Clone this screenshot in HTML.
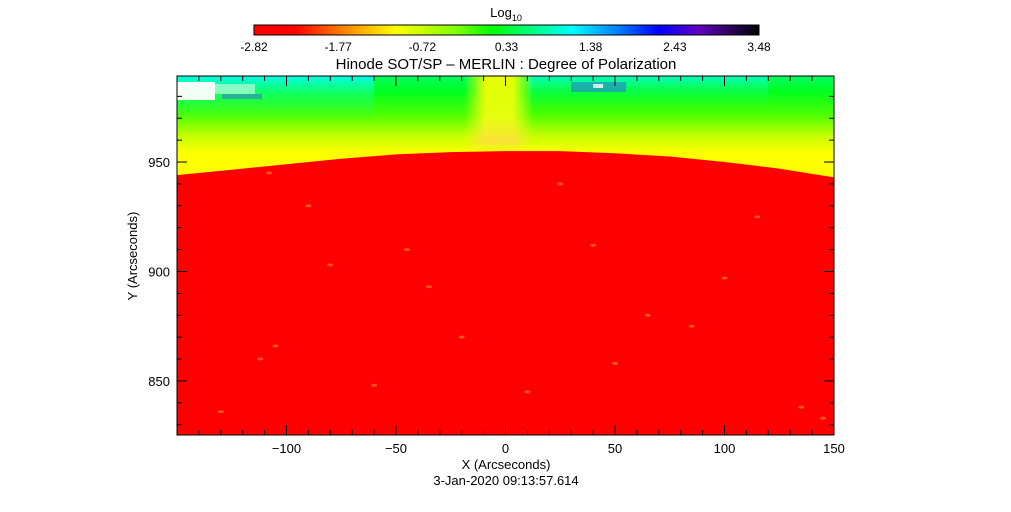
<!DOCTYPE html>
<html><head><meta charset="utf-8"><style>
html,body{margin:0;padding:0;background:#fff;}
svg{display:block;font-family:"Liberation Sans",sans-serif;}
</style></head><body>
<svg id="chart" width="1011" height="512" viewBox="0 0 1011 512" xmlns="http://www.w3.org/2000/svg">
<defs>
<linearGradient id="cbar" x1="0" x2="1" y1="0" y2="0">
<stop offset="0" stop-color="#ff0000"/><stop offset="0.08" stop-color="#ff0000"/>
<stop offset="0.2" stop-color="#ffa000"/><stop offset="0.28" stop-color="#ffff00"/>
<stop offset="0.4" stop-color="#80ff00"/><stop offset="0.47" stop-color="#00ff00"/>
<stop offset="0.63" stop-color="#00ffff"/><stop offset="0.72" stop-color="#0080ff"/>
<stop offset="0.8" stop-color="#0000ff"/><stop offset="0.88" stop-color="#6000c0"/>
<stop offset="1" stop-color="#000000"/></linearGradient>
<linearGradient id="corona" gradientUnits="userSpaceOnUse" x1="0" x2="0" y1="180" y2="76">
<stop offset="0" stop-color="#ffff00"/><stop offset="0.25" stop-color="#ffff00"/>
<stop offset="0.42" stop-color="#c8ff00"/><stop offset="0.62" stop-color="#50ff00"/>
<stop offset="0.85" stop-color="#00ff20"/><stop offset="1" stop-color="#00ff60"/></linearGradient>
<linearGradient id="topleft" x1="0" x2="0" y1="0" y2="1">
<stop offset="0" stop-color="#00ffff"/><stop offset="0.4" stop-color="#20ffb0" stop-opacity="0.5"/><stop offset="1" stop-color="#20ff80" stop-opacity="0"/></linearGradient>
<linearGradient id="col" x1="0" x2="0" y1="0" y2="1">
<stop offset="0" stop-color="#ffff00"/><stop offset="0.5" stop-color="#f4ff10"/><stop offset="0.8" stop-color="#ffe040"/><stop offset="1" stop-color="#ffff00" stop-opacity="0"/></linearGradient>
<linearGradient id="colh" gradientUnits="userSpaceOnUse" x1="464" x2="534" y1="0" y2="0">
<stop offset="0" stop-color="#fff" stop-opacity="0"/><stop offset="0.3" stop-color="#fff" stop-opacity="1"/><stop offset="0.7" stop-color="#fff" stop-opacity="1"/><stop offset="1" stop-color="#fff" stop-opacity="0"/></linearGradient>
<mask id="colmask" maskUnits="userSpaceOnUse" x="0" y="0" width="1011" height="512"><rect x="0" y="0" width="1011" height="512" fill="url(#colh)"/></mask>
<clipPath id="plotclip"><rect x="177" y="76" width="657" height="359"/></clipPath>
</defs>
<g id="layer"></g>
</svg>
<script>
const cbarTicks = ["-2.82","-1.77","-0.72","0.33","1.38","2.43","3.48"];
const xTicks = [-100,-50,0,50,100,150];
const yTicks = [850,900,950];
const limbX = [-150,-125,-100,-75,-50,-25,0,25,50,75,100,125,150];
const limbY = [944,946.5,949,951.5,953.5,954.5,955,955,954,952.5,950,947,943];
const brightX = [-112,-105,-108,-90,-60,-35,-20,25,40,50,65,85,100,135,145,-130,-80,10,115,-45];
const brightY = [860,866,945,930,848,893,870,940,912,858,880,875,897,838,833,836,903,845,925,910];

const X0=-150,X1=150,Y0=825.3,Y1=989.3,L=177,R=834,T=76,B=435;
const sx=v=>L+(v-X0)/(X1-X0)*(R-L);
const sy=v=>B-(v-Y0)/(Y1-Y0)*(B-T);
const NS="http://www.w3.org/2000/svg";
const svg=document.getElementById('layer');
function mk(tag,attrs,parent){const e=document.createElementNS(NS,tag);for(const k in attrs)e.setAttribute(k,attrs[k]);(parent||svg).appendChild(e);return e;}

let e=mk('rect',{x:254,y:25,width:505,height:10,fill:'url(#cbar)',stroke:'#000','stroke-width':1});


cbarTicks.forEach((t,i)=>{const x=254+i*505/(cbarTicks.length-1);
 const tx=mk('text',{x:x,y:51,'text-anchor':'middle','font-size':12,fill:'#000'});tx.textContent=t;
 
 });
e=mk('text',{x:506,y:17,'text-anchor':'middle','font-size':13,fill:'#000'});
e.innerHTML='Log<tspan font-size="9" dy="4">10</tspan>';


e=mk('text',{x:506,y:69,'text-anchor':'middle','font-size':15,fill:'#000'});
e.textContent='Hinode SOT/SP – MERLIN : Degree of Polarization';



const g=mk('g',{'clip-path':'url(#plotclip)'});


mk('rect',{x:L,y:T,width:R-L,height:B-T,fill:'url(#corona)'},g);
mk('rect',{x:L,y:T,width:sx(-60)-L,height:45,fill:'url(#topleft)',opacity:0.85},g);
mk('rect',{x:sx(10),y:T,width:sx(120)-sx(10),height:32,fill:'url(#topleft)',opacity:0.6},g);
mk('rect',{x:L,y:T+6,width:38,height:18,fill:'#fff',opacity:0.95},g);
mk('rect',{x:L+38,y:T+8,width:40,height:10,fill:'#fff',opacity:0.5},g);
mk('rect',{x:L+45,y:T+18,width:40,height:5,fill:'#4040ff',opacity:0.4},g);
mk('rect',{x:sx(30),y:T+6,width:55,height:10,fill:'#3050ff',opacity:0.45},g);
mk('rect',{x:sx(40),y:T+8,width:10,height:4,fill:'#fff',opacity:0.8},g);
mk('rect',{x:sx(-20),y:T,width:sx(12)-sx(-20),height:82,fill:'url(#col)',mask:'url(#colmask)',opacity:0.9},g);
let d='M'+L+','+B;
limbX.forEach((x,i)=>{d+=' L'+sx(x)+','+sy(limbY[i]);});
d+=' L'+R+','+B+' Z';
let disk=mk('path',{d:d,fill:'#ff0000'},g);


brightX.forEach((x,i)=>{const c=mk('ellipse',{cx:sx(x),cy:sy(brightY[i]),rx:3,ry:1.5,fill:'#ff9020',opacity:0.6},g);
 
 });

e=mk('rect',{x:L,y:T,width:R-L,height:B-T,fill:'none',stroke:'#000','stroke-width':1});


for(let v=-150;v<=150;v+=10){const x=sx(v),len=(v%50===0)?10:5;
 mk('line',{x1:x,x2:x,y1:B,y2:B-len,stroke:'#000','stroke-width':1});
 mk('line',{x1:x,x2:x,y1:T,y2:T+len,stroke:'#000','stroke-width':1});}
for(let v=830;v<=980;v+=10){const y=sy(v),len=(v%50===0)?10:5;
 mk('line',{x1:L,x2:L+len,y1:y,y2:y,stroke:'#000','stroke-width':1});
 mk('line',{x1:R,x2:R-len,y1:y,y2:y,stroke:'#000','stroke-width':1});}
xTicks.forEach(v=>{const t=mk('text',{x:sx(v),y:453,'text-anchor':'middle','font-size':13,fill:'#000'});t.textContent=String(v).replace('-','−');
 
 });
yTicks.forEach(v=>{const t=mk('text',{x:170,y:sy(v)+5,'text-anchor':'end','font-size':13,fill:'#000'});t.textContent=v;
 
 });
e=mk('text',{x:506,y:469,'text-anchor':'middle','font-size':13,fill:'#000'});e.textContent='X (Arcseconds)';


e=mk('text',{x:506,y:485,'text-anchor':'middle','font-size':13,fill:'#000'});e.textContent='3-Jan-2020 09:13:57.614';


e=mk('text',{x:137,y:256,'text-anchor':'middle','font-size':13,fill:'#000',transform:'rotate(-90 137 256)'});e.textContent='Y (Arcseconds)';


</script>
</body></html>
